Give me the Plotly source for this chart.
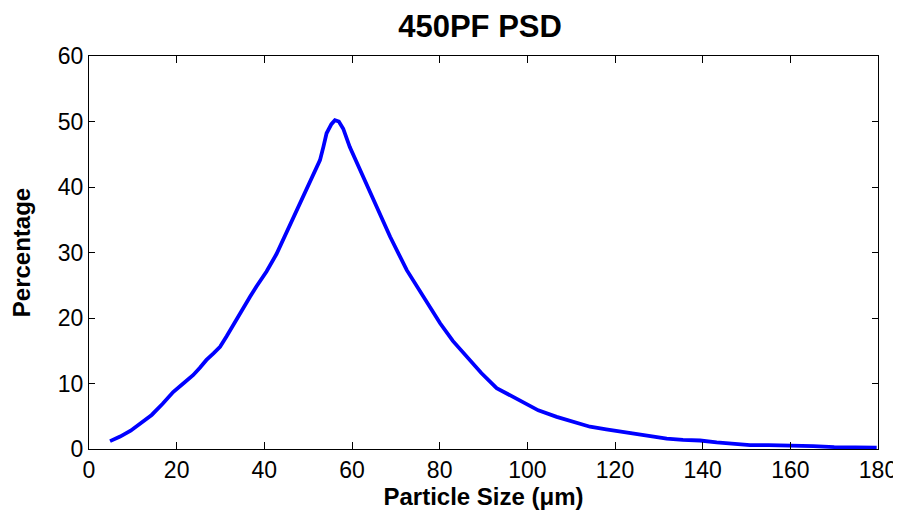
import plotly.graph_objects as go

particle_size = [4.8, 7.1, 9.5, 11.6, 14.3, 16.8, 19.2, 21.5, 23.8, 25.3, 26.8, 28.4,
                 29.9, 31.4, 32.9, 35.2, 36.7, 38.2, 40.5, 42.8, 44.7, 46.6, 48.5,
                 50.4, 51.6, 52.7, 53.5, 54.2, 55.3, 56.1, 57.0, 58.0, 59.5, 61.8,
                 64.9, 68.7, 72.5, 76.3, 80.1, 83.0, 86.2, 89.5, 93.0, 95.5, 97.6,
                 99.1, 102.5, 106.7, 110.5, 114.3, 118.0, 121.9, 125.0, 128.0,
                 131.8, 135.5, 139.4, 143.2, 147.0, 150.8, 155.0, 160.0, 165.2,
                 170.0, 175.0, 179.7]
percentage = [1.2, 1.9, 2.8, 3.9, 5.2, 6.9, 8.7, 10.0, 11.3, 12.4, 13.6, 14.6,
              15.6, 17.2, 18.9, 21.7, 23.2, 24.8, 27.1, 29.8, 32.5, 35.5, 38.0,
              40.6, 42.4, 44.1, 46.2, 48.2, 49.6, 50.2, 50.0, 48.9, 46.1, 42.6,
              38.0, 32.4, 27.3, 23.3, 19.2, 16.5, 14.1, 11.6, 9.3, 8.4, 7.7,
              7.0, 5.9, 4.9, 4.1, 3.4, 3.0, 2.6, 2.2, 1.9,
              1.6, 1.4, 1.3, 1.0, 0.8, 0.6, 0.6, 0.55, 0.45,
              0.3, 0.25, 0.2]

x_ticks = [0, 20, 40, 60, 80, 100, 120, 140, 160, 180]
y_ticks = [0, 10, 20, 30, 40, 50, 60]

fig = go.Figure()
fig.add_trace(go.Scatter(x=particle_size, y=percentage, mode="lines",
                         line=dict(color="#0000FF", width=3.8)))

font_family = "Liberation Sans, Arial, sans-serif"
axis_common = dict(showline=True, linecolor="black", linewidth=1, mirror="ticks",
                   ticks="inside", tickcolor="black", showgrid=False, zeroline=False,
                   automargin=False,
                   tickfont=dict(family=font_family, size=23, color="black"))

# page body has an 8px margin, so the figure is sized/offset to compensate
fig.update_layout(
    width=893, height=512,
    margin=dict(l=81, r=23, t=48, b=71),
    paper_bgcolor="white", plot_bgcolor="white",
    showlegend=False,
    title=dict(text="<b>450PF PSD</b>", x=0.5286, xanchor="center", xref="container",
               y=0.965, yanchor="middle", yref="container", automargin=False,
               font=dict(family=font_family, size=31, color="black")),
    xaxis=dict(range=[0, 180], tickvals=x_ticks, ticklen=7,
               title=dict(text="<b>Particle Size (μm)</b>", standoff=6,
                          font=dict(family=font_family, size=24, color="black")),
               **axis_common),
    yaxis=dict(range=[0, 60], tickvals=y_ticks, ticklen=6,
               title=dict(text="<b>Percentage</b>", standoff=28,
                          font=dict(family=font_family, size=24, color="black")),
               **axis_common),
)

fig.write_html("out.html")
